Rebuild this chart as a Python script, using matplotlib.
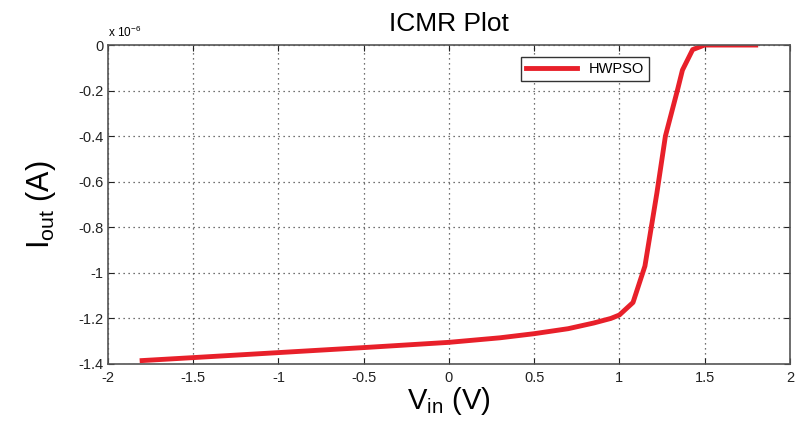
import numpy as np
import matplotlib.pyplot as plt

plt.rcParams['font.family'] = ['Liberation Sans', 'DejaVu Sans']

# data (current in units of 1e-6 A)
v_in = [-1.8, -1.5, -1.0, -0.5, 0.0, 0.3, 0.5, 0.7, 0.85, 0.95, 1.0, 1.08,
        1.15, 1.22, 1.27, 1.34, 1.37, 1.43, 1.5, 1.6, 1.8]
i_out = [-1.385, -1.372, -1.35, -1.328, -1.305, -1.285, -1.267, -1.245,
         -1.22, -1.2, -1.185, -1.13, -0.97, -0.65, -0.4, -0.2, -0.11,
         -0.02, 0.0, 0.0, 0.0]

x_ticks = [-2, -1.5, -1, -0.5, 0, 0.5, 1, 1.5, 2]
x_labels = ['-2', '-1.5', '-1', '-0.5', '0', '0.5', '1', '1.5', '2']
y_ticks = [-1.4, -1.2, -1.0, -0.8, -0.6, -0.4, -0.2, 0]
y_labels = ['-1.4', '-1.2', '-1', '-0.8', '-0.6', '-0.4', '-0.2', '0']

fig = plt.figure(figsize=(7.97, 4.23), dpi=100)
ax = fig.add_axes([0.1355, 0.1395, 0.8555, 0.754])

ax.plot(v_in, i_out, color='#e8202a', lw=3.5, label='HWPSO')

ax.set_xlim(-2, 2)
ax.set_ylim(-1.4, 0)
ax.set_xticks(x_ticks)
ax.set_xticklabels(x_labels)
ax.set_yticks(y_ticks)
ax.set_yticklabels(y_labels)
ax.tick_params(direction='in', labelsize=10.5, colors='#222222', length=4,
               top=True, right=True)
ax.tick_params(axis='x', pad=5)
ax.grid(True, linestyle=(0, (1, 3)), color='#444444', lw=0.9)
for s in ax.spines.values():
    s.set_color('#555555')
    s.set_linewidth(1.2)

ax.set_title('ICMR Plot', fontsize=19, pad=10)
ax.set_xlabel(r'V$_{\mathregular{in}}$ (V)', fontsize=21, labelpad=0)
ax.set_ylabel(r'I$_{\mathregular{out}}$ (A)', fontsize=22, labelpad=14)
ax.text(0.0, 1.015, r'x 10$^{\mathregular{-6}}$', transform=ax.transAxes,
        fontsize=8.5, ha='left', va='bottom')

leg = ax.legend(loc='upper left', bbox_to_anchor=(0.595, 0.985), fontsize=10.5,
                fancybox=False, framealpha=1, edgecolor='#333333',
                handlelength=3.5, borderpad=0.35)
leg.get_frame().set_linewidth(1.0)

fig.savefig('out.png', dpi=100)
